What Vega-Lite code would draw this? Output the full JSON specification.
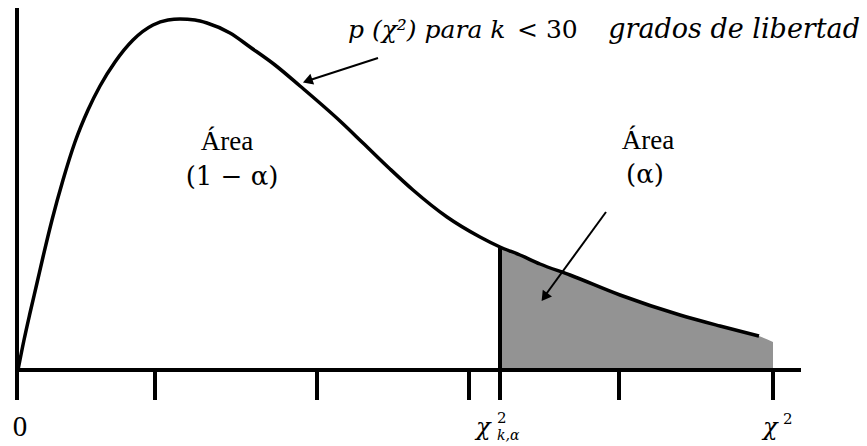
{
  "$schema": "https://vega.github.io/schema/vega-lite/v6.json",
  "width": 867,
  "height": 446,
  "padding": 0,
  "autosize": {"type": "fit", "contains": "padding"},
  "background": "white",
  "config": {"view": {"stroke": null}},
  "datasets": {
    "curve": [
      {"x": 0, "y": 0}, {"x": 0.6, "y": 3.0}, {"x": 1.2, "y": 5.7}, {"x": 1.9, "y": 8.7},
      {"x": 2.5, "y": 11.3}, {"x": 3.4, "y": 15.0}, {"x": 4.5, "y": 19.0}, {"x": 5.7, "y": 22.8},
      {"x": 7.0, "y": 26.0}, {"x": 8.2, "y": 28.4}, {"x": 9.7, "y": 30.8}, {"x": 11.5, "y": 33.0},
      {"x": 13.5, "y": 34.5}, {"x": 15.0, "y": 35.0}, {"x": 16.2, "y": 35.1}, {"x": 17.7, "y": 35.0},
      {"x": 18.9, "y": 34.7}, {"x": 21.2, "y": 33.7}, {"x": 23.2, "y": 32.3}, {"x": 25.7, "y": 30.5},
      {"x": 28.2, "y": 28.4}, {"x": 32.2, "y": 24.9}, {"x": 34.5, "y": 22.7}, {"x": 37.2, "y": 20.1},
      {"x": 39.5, "y": 18.0}, {"x": 42.9, "y": 15.3}, {"x": 46.2, "y": 13.3}, {"x": 48.2, "y": 12.3},
      {"x": 50.2, "y": 11.5}, {"x": 52.2, "y": 10.6}, {"x": 55.2, "y": 9.5}, {"x": 60.2, "y": 7.5},
      {"x": 66.2, "y": 5.5}, {"x": 70.2, "y": 4.4}, {"x": 74.1, "y": 3.4}
    ],
    "shade": [
      {"x": 48.2, "y": 12.3}, {"x": 50.2, "y": 11.5}, {"x": 52.2, "y": 10.6}, {"x": 55.2, "y": 9.5},
      {"x": 60.2, "y": 7.5}, {"x": 66.2, "y": 5.5}, {"x": 70.2, "y": 4.4}, {"x": 74.1, "y": 3.4},
      {"x": 75.5, "y": 2.8}
    ],
    "segments": [
      {"x": -0.1, "y": -3.0, "x2": -0.1, "y2": 36.2},
      {"x": -0.1, "y": 0, "x2": 78.3, "y2": 0},
      {"x": 13.7, "y": 0, "x2": 13.7, "y2": -3.0},
      {"x": 29.9, "y": 0, "x2": 29.9, "y2": -3.0},
      {"x": 45.1, "y": 0, "x2": 45.1, "y2": -3.0},
      {"x": 48.2, "y": 12.3, "x2": 48.2, "y2": -3.0},
      {"x": 60.1, "y": 0, "x2": 60.1, "y2": -3.0},
      {"x": 75.5, "y": 0, "x2": 75.5, "y2": -3.0}
    ],
    "arrows": [
      {"x": 36.0, "y": 31.2, "x2": 28.9, "y2": 28.9},
      {"x": 58.8, "y": 15.8, "x2": 52.6, "y2": 7.3}
    ]
  },
  "layer": [
    {
      "data": {"name": "shade"},
      "mark": {"type": "area", "color": "#939393", "interpolate": "monotone"},
      "encoding": {
        "x": {"field": "x", "type": "quantitative", "scale": {"domain": [-1.8, 84.9], "nice": false, "zero": false}, "axis": null},
        "y": {"field": "y", "type": "quantitative", "scale": {"domain": [-7.6, 37.0], "nice": false, "zero": false}, "axis": null},
        "y2": {"datum": 0}
      }
    },
    {
      "data": {"name": "curve"},
      "mark": {"type": "line", "color": "black", "strokeWidth": 3.5, "interpolate": "monotone"},
      "encoding": {
        "x": {"field": "x", "type": "quantitative"},
        "y": {"field": "y", "type": "quantitative"}
      }
    },
    {
      "data": {"name": "segments"},
      "mark": {"type": "rule", "color": "black", "strokeWidth": 4},
      "encoding": {
        "x": {"field": "x", "type": "quantitative"},
        "y": {"field": "y", "type": "quantitative"},
        "x2": {"field": "x2"},
        "y2": {"field": "y2"}
      }
    },
    {
      "data": {"name": "arrows"},
      "mark": {"type": "rule", "color": "black", "strokeWidth": 2},
      "encoding": {
        "x": {"field": "x", "type": "quantitative"},
        "y": {"field": "y", "type": "quantitative"},
        "x2": {"field": "x2"},
        "y2": {"field": "y2"}
      }
    },
    {
      "data": {"values": [{"x": 28.96, "y": 28.92}]},
      "mark": {"type": "point", "shape": "triangle-up", "filled": true, "color": "black", "opacity": 1, "size": 130, "angle": 251},
      "encoding": {
        "x": {"field": "x", "type": "quantitative"},
        "y": {"field": "y", "type": "quantitative"}
      }
    },
    {
      "data": {"values": [{"x": 52.65, "y": 7.29}]},
      "mark": {"type": "point", "shape": "triangle-up", "filled": true, "color": "black", "opacity": 1, "size": 130, "angle": 215.8},
      "encoding": {
        "x": {"field": "x", "type": "quantitative"},
        "y": {"field": "y", "type": "quantitative"}
      }
    },
    {
      "data": {"values": [
        {"x": 20.9, "y": 22.0, "t": "Área"},
        {"x": 63.0, "y": 22.1, "t": "Área"}
      ]},
      "mark": {"type": "text", "font": "Times New Roman, Liberation Serif, serif", "fontSize": 27, "color": "black", "align": "center", "baseline": "alphabetic"},
      "encoding": {
        "x": {"field": "x", "type": "quantitative"},
        "y": {"field": "y", "type": "quantitative"},
        "text": {"field": "t"}
      }
    },
    {
      "data": {"values": [
        {"x": 0.2, "y": -6.6, "t": "0"}
      ]},
      "mark": {"type": "text", "font": "Times New Roman, Liberation Serif, serif", "fontSize": 29, "color": "black", "align": "center", "baseline": "alphabetic"},
      "encoding": {
        "x": {"field": "x", "type": "quantitative"},
        "y": {"field": "y", "type": "quantitative"},
        "text": {"field": "t"}
      }
    },
    {
      "data": {"values": [
        {"x": 21.4, "y": 18.5, "t": "(1 − α)"},
        {"x": 62.7, "y": 18.7, "t": "(α)"}
      ]},
      "mark": {"type": "text", "font": "DejaVu Serif", "fontSize": 26, "color": "black", "align": "center", "baseline": "alphabetic"},
      "encoding": {
        "x": {"field": "x", "type": "quantitative"},
        "y": {"field": "y", "type": "quantitative"},
        "text": {"field": "t"}
      }
    },
    {
      "data": {"values": [
        {"x": 49.9, "y": 33.2, "t": "< 30"}
      ]},
      "mark": {"type": "text", "font": "DejaVu Serif", "fontSize": 25, "color": "black", "align": "left", "baseline": "alphabetic"},
      "encoding": {
        "x": {"field": "x", "type": "quantitative"},
        "y": {"field": "y", "type": "quantitative"},
        "text": {"field": "t"}
      }
    },
    {
      "data": {"values": [
        {"x": 33.0, "y": 33.2, "t": "p (χ²) para k"}
      ]},
      "mark": {"type": "text", "font": "DejaVu Serif", "fontStyle": "italic", "fontSize": 25, "color": "black", "align": "left", "baseline": "alphabetic"},
      "encoding": {
        "x": {"field": "x", "type": "quantitative"},
        "y": {"field": "y", "type": "quantitative"},
        "text": {"field": "t"}
      }
    },
    {
      "data": {"values": [
        {"x": 84.2, "y": 33.2, "t": "grados de libertad"}
      ]},
      "mark": {"type": "text", "font": "DejaVu Serif", "fontStyle": "italic", "fontSize": 27, "color": "black", "align": "right", "baseline": "alphabetic"},
      "encoding": {
        "x": {"field": "x", "type": "quantitative"},
        "y": {"field": "y", "type": "quantitative"},
        "text": {"field": "t"}
      }
    },
    {
      "data": {"values": [
        {"x": 45.8, "y": -6.5, "t": "χ"},
        {"x": 74.5, "y": -6.5, "t": "χ"}
      ]},
      "mark": {"type": "text", "font": "DejaVu Serif", "fontStyle": "italic", "fontSize": 24, "color": "black", "align": "left", "baseline": "alphabetic"},
      "encoding": {
        "x": {"field": "x", "type": "quantitative"},
        "y": {"field": "y", "type": "quantitative"},
        "text": {"field": "t"}
      }
    },
    {
      "data": {"values": [
        {"x": 47.9, "y": -5.3, "t": "2"},
        {"x": 76.5, "y": -5.4, "t": "2"}
      ]},
      "mark": {"type": "text", "font": "DejaVu Serif", "fontSize": 15, "color": "black", "align": "left", "baseline": "alphabetic"},
      "encoding": {
        "x": {"field": "x", "type": "quantitative"},
        "y": {"field": "y", "type": "quantitative"},
        "text": {"field": "t"}
      }
    },
    {
      "data": {"values": [
        {"x": 47.9, "y": -7.0, "t": "k,α"}
      ]},
      "mark": {"type": "text", "font": "DejaVu Serif", "fontStyle": "italic", "fontSize": 14, "color": "black", "align": "left", "baseline": "alphabetic"},
      "encoding": {
        "x": {"field": "x", "type": "quantitative"},
        "y": {"field": "y", "type": "quantitative"},
        "text": {"field": "t"}
      }
    }
  ]
}
